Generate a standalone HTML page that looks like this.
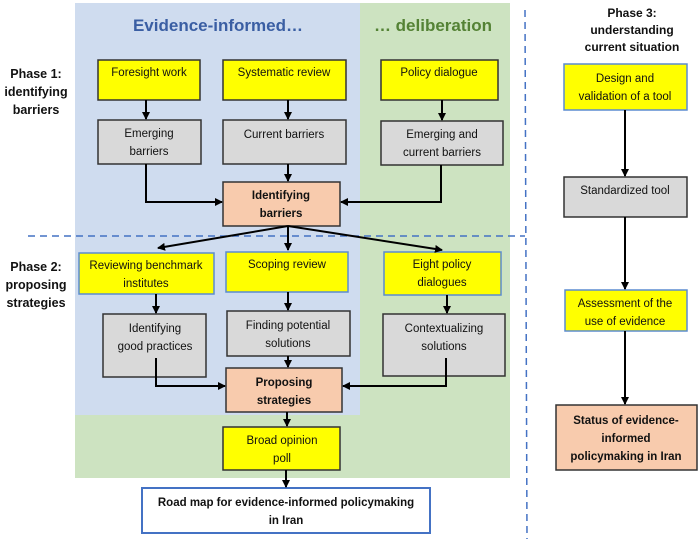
<!DOCTYPE html>
<html><head><meta charset="utf-8"><style>
html,body{margin:0;padding:0;background:#fff}
svg{display:block}
text{font-family:"Liberation Sans",sans-serif;font-size:11.5px;fill:#111;text-anchor:middle}
.b{font-weight:bold}
</style></head><body>
<svg width="700" height="539" viewBox="0 0 700 539" xmlns="http://www.w3.org/2000/svg">
<defs><marker id="a" markerWidth="8" markerHeight="8" refX="7" refY="4" orient="auto" markerUnits="userSpaceOnUse"><path d="M0,0 L8,4 L0,8 z" fill="#000"/></marker></defs>
<rect x="75" y="3" width="285" height="412" fill="#cfdcef"/>
<rect x="360" y="3" width="150" height="412" fill="#cde3c1"/>
<rect x="75" y="415" width="435" height="63" fill="#cde3c1"/>
<text x="218" y="31" class="b" style="font-size:17px;fill:#3a5ea3">Evidence-informed…</text>
<text x="433" y="31" class="b" style="font-size:17px;fill:#548235">… deliberation</text>
<line x1="28" y1="236" x2="525" y2="236" stroke="#4472c4" stroke-width="1.5" stroke-dasharray="7,5"/>
<line x1="525" y1="10" x2="527" y2="539" stroke="#4472c4" stroke-width="1.5" stroke-dasharray="7,5"/>
<text x="36" y="78" class="b" style="font-size:12.5px">Phase 1:</text>
<text x="36" y="96" class="b" style="font-size:12.5px">identifying</text>
<text x="36" y="114" class="b" style="font-size:12.5px">barriers</text>
<text x="36" y="271" class="b" style="font-size:12.5px">Phase 2:</text>
<text x="36" y="289" class="b" style="font-size:12.5px">proposing</text>
<text x="36" y="307" class="b" style="font-size:12.5px">strategies</text>
<text x="632" y="17" class="b" style="font-size:12px">Phase 3:</text>
<text x="632" y="34" class="b" style="font-size:12px">understanding</text>
<text x="632" y="51" class="b" style="font-size:12px">current situation</text>
<g stroke="#333" stroke-width="1.5">
<rect x="98" y="60" width="102" height="40" fill="#ffff00"/>
<rect x="223" y="60" width="123" height="40" fill="#ffff00"/>
<rect x="381" y="60" width="117" height="40" fill="#ffff00"/>
<rect x="98" y="120" width="103" height="44" fill="#d9d9d9"/>
<rect x="223" y="120" width="123" height="44" fill="#d9d9d9"/>
<rect x="381" y="121" width="122" height="44" fill="#d9d9d9"/>
<rect x="223" y="182" width="117" height="44" fill="#f8cbad"/>
<rect x="103" y="314" width="103" height="63" fill="#d9d9d9"/>
<rect x="227" y="311" width="123" height="45" fill="#d9d9d9"/>
<rect x="383" y="314" width="122" height="62" fill="#d9d9d9"/>
<rect x="226" y="368" width="116" height="44" fill="#f8cbad"/>
<rect x="223" y="427" width="117" height="43" fill="#ffff00"/>
<rect x="564" y="177" width="123" height="40" fill="#d9d9d9"/>
<rect x="556" y="405" width="141" height="65" fill="#f8cbad"/>
</g>
<g stroke="#5b8bd0" stroke-width="1.5">
<rect x="79" y="253" width="135" height="41" fill="#ffff00"/>
<rect x="226" y="252" width="122" height="40" fill="#ffff00"/>
<rect x="384" y="252" width="117" height="43" fill="#ffff00"/>
<rect x="564" y="64" width="123" height="46" fill="#ffff00"/>
<rect x="565" y="290" width="122" height="41" fill="#ffff00"/>
<rect x="142" y="488" width="288" height="45" fill="#fff" stroke="#4472c4" stroke-width="2"/>
</g>
<g stroke="#000" stroke-width="2" fill="none" marker-end="url(#a)">
<line x1="146" y1="100" x2="146" y2="119"/>
<line x1="288" y1="100" x2="288" y2="119"/>
<line x1="442" y1="100" x2="442" y2="120"/>
<line x1="288" y1="164" x2="288" y2="181"/>
<polyline points="146,164 146,202 222,202"/>
<polyline points="441,165 441,202 341,202"/>
<line x1="288" y1="226" x2="158" y2="248"/>
<line x1="288" y1="226" x2="288" y2="250"/>
<line x1="288" y1="226" x2="442" y2="250"/>
<line x1="156" y1="294" x2="156" y2="313"/>
<line x1="288" y1="292" x2="288" y2="310"/>
<line x1="447" y1="295" x2="447" y2="313"/>
<line x1="288" y1="356" x2="288" y2="367"/>
<polyline points="156,358 156,386 225,386"/>
<polyline points="446,358 446,386 343,386"/>
<line x1="287" y1="412" x2="287" y2="426"/>
<line x1="286" y1="470" x2="286" y2="487"/>
<line x1="625" y1="110" x2="625" y2="176"/>
<line x1="625" y1="217" x2="625" y2="289"/>
<line x1="625" y1="331" x2="625" y2="404"/>
</g>
<text x="149" y="76">Foresight work</text>
<text x="284" y="76">Systematic review</text>
<text x="439" y="76">Policy dialogue</text>
<text x="149" y="137">Emerging</text>
<text x="149" y="155">barriers</text>
<text x="284" y="138">Current barriers</text>
<text x="442" y="138">Emerging and</text>
<text x="442" y="156">current barriers</text>
<text x="281" y="199" class="b">Identifying</text>
<text x="281" y="217" class="b">barriers</text>
<text x="146" y="269">Reviewing benchmark</text>
<text x="146" y="287">institutes</text>
<text x="287" y="268">Scoping review</text>
<text x="442" y="268">Eight policy</text>
<text x="442" y="286">dialogues</text>
<text x="155" y="332">Identifying</text>
<text x="155" y="350">good practices</text>
<text x="288" y="329">Finding potential</text>
<text x="288" y="347">solutions</text>
<text x="444" y="332">Contextualizing</text>
<text x="444" y="350">solutions</text>
<text x="284" y="386" class="b">Proposing</text>
<text x="284" y="404" class="b">strategies</text>
<text x="282" y="444">Broad opinion</text>
<text x="282" y="462">poll</text>
<text x="286" y="506" class="b">Road map for evidence-informed policymaking</text>
<text x="286" y="524" class="b">in Iran</text>
<text x="625" y="82">Design and</text>
<text x="625" y="100">validation of a tool</text>
<text x="625" y="194">Standardized tool</text>
<text x="625" y="307">Assessment of the</text>
<text x="625" y="325">use of evidence</text>
<text x="626" y="424" class="b">Status of evidence-</text>
<text x="626" y="442" class="b">informed</text>
<text x="626" y="460" class="b">policymaking in Iran</text>
</svg>
</body></html>
